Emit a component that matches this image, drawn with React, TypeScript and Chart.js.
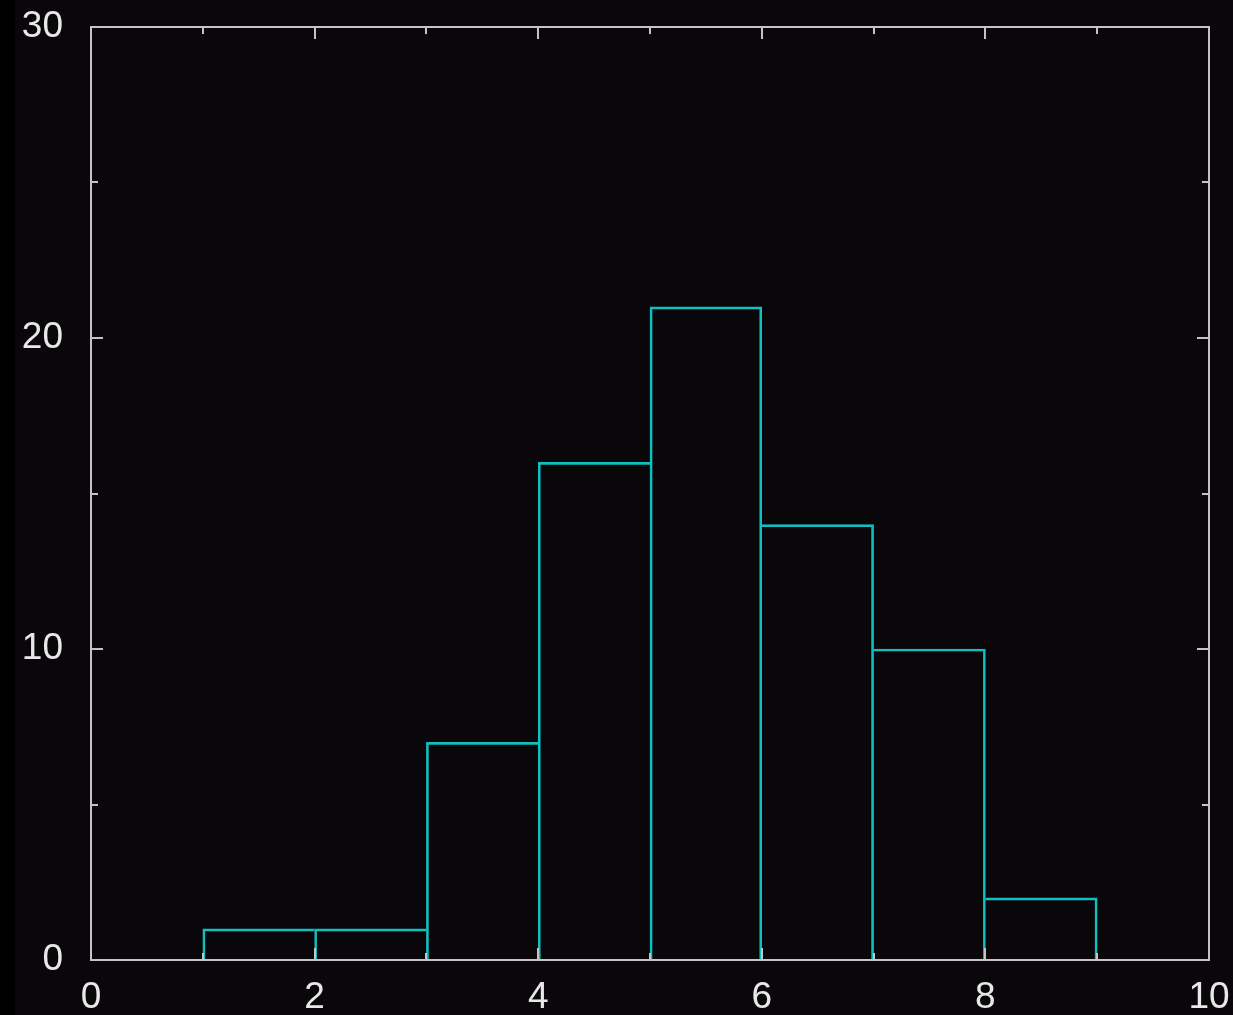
import React, { useEffect, useRef } from "react";
import { Chart, registerables } from "chart.js";

Chart.register(...registerables);

const binStarts = [1, 2, 3, 4, 5, 6, 7, 8];
const binWidth = 1;
const counts = [1, 1, 7, 16, 21, 14, 10, 2];
const xTicks = [0, 2, 4, 6, 8, 10];
const yTicks = [0, 10, 20, 30];

const BG = "#0a070a";
const FRAME = "#c4c4c4";
const CYAN = "#10bfbf";
const TEXT = "#e8e8e8";

const framePlugin = {
  id: "frame",
  beforeDraw(chart: any) {
    const { ctx, width, height } = chart;
    ctx.save();
    ctx.fillStyle = BG;
    ctx.fillRect(0, 0, width, height);
    ctx.fillStyle = "#000000";
    ctx.fillRect(0, 0, 15, height);
    ctx.restore();
  },
  afterDraw(chart: any) {
    const { ctx, chartArea: a } = chart;
    const xs = chart.scales.x;
    const ys = chart.scales.y;
    ctx.save();
    ctx.strokeStyle = FRAME;
    ctx.lineWidth = 2;
    ctx.lineCap = "butt";
    const major = 12;
    const minor = 7;
    ctx.beginPath();
    for (let v = 0; v <= 10; v += 1) {
      const px = Math.round(xs.getPixelForValue(v));
      const len = v % 2 === 0 ? major : minor;
      ctx.moveTo(px, a.top);
      ctx.lineTo(px, a.top + len);
      ctx.moveTo(px, a.bottom);
      ctx.lineTo(px, a.bottom - len);
    }
    for (let v = 0; v <= 30; v += 5) {
      const py = Math.round(ys.getPixelForValue(v));
      const len = v % 10 === 0 ? major : minor;
      ctx.moveTo(a.left, py);
      ctx.lineTo(a.left + len, py);
      ctx.moveTo(a.right, py);
      ctx.lineTo(a.right - len, py);
    }
    ctx.stroke();
    ctx.lineJoin = "miter";
    ctx.strokeRect(a.left, a.top, a.right - a.left, a.bottom - a.top);
    ctx.restore();
  },
};

const zeroPad = (s: any) => {
  s.paddingTop = 0;
  s.paddingBottom = 0;
  s.paddingLeft = 0;
  s.paddingRight = 0;
};

export default function App() {
  const ref = useRef<HTMLCanvasElement | null>(null);
  useEffect(() => {
    if (!ref.current) return;
    const data = binStarts.map((s, i) => ({ x: s + binWidth / 2, y: counts[i] }));
    const chart = new Chart(ref.current, {
      type: "bar",
      data: {
        datasets: [
          {
            data: data as any,
            backgroundColor: "rgba(0,0,0,0)",
            borderColor: CYAN,
            borderWidth: (c: any) => {
              const i = c.dataIndex;
              const h = counts[i];
              const prev = i > 0 && binStarts[i - 1] + binWidth === binStarts[i] ? counts[i - 1] : -1;
              const next = i < counts.length - 1 && binStarts[i] + binWidth === binStarts[i + 1] ? counts[i + 1] : -1;
              return {
                top: 2,
                bottom: 0,
                left: h >= prev ? 2 : 0,
                right: h > next ? 2 : 0,
              };
            },
            borderSkipped: false,
            barPercentage: 1,
            categoryPercentage: 1,
          },
        ],
      },
      options: {
        animation: false,
        responsive: false,
        maintainAspectRatio: false,
        layout: { padding: { left: 0, right: 24, top: 27, bottom: 0 } },
        plugins: { legend: { display: false }, tooltip: { enabled: false } },
        scales: {
          x: {
            type: "linear",
            min: 0,
            max: 10,
            offset: false,
            grid: { display: false, drawTicks: false },
            border: { display: false },
            afterBuildTicks: (s: any) => {
              s.ticks = xTicks.map((v) => ({ value: v }));
            },
            afterFit: (s: any) => {
              s.height = 55;
              zeroPad(s);
            },
            ticks: {
              color: TEXT,
              font: { family: "Liberation Sans", size: 37 },
              padding: 16,
              maxRotation: 0,
              autoSkip: false,
            },
          },
          y: {
            type: "linear",
            min: 0,
            max: 30,
            grid: { display: false, drawTicks: false },
            border: { display: false },
            afterBuildTicks: (s: any) => {
              s.ticks = yTicks.map((v) => ({ value: v }));
            },
            afterFit: (s: any) => {
              s.width = 91;
              zeroPad(s);
            },
            ticks: {
              color: TEXT,
              font: { family: "Liberation Sans", size: 37 },
              padding: 28,
              autoSkip: false,
            },
          },
        },
      },
      plugins: [framePlugin],
    });
    return () => chart.destroy();
  }, []);
  return (
    <div style={{ position: "fixed", left: 0, top: 0, width: 1233, height: 1015, background: "#000" }}>
      <canvas ref={ref} width={1233} height={1015} style={{ display: "block", width: 1233, height: 1015 }} />
    </div>
  );
}
